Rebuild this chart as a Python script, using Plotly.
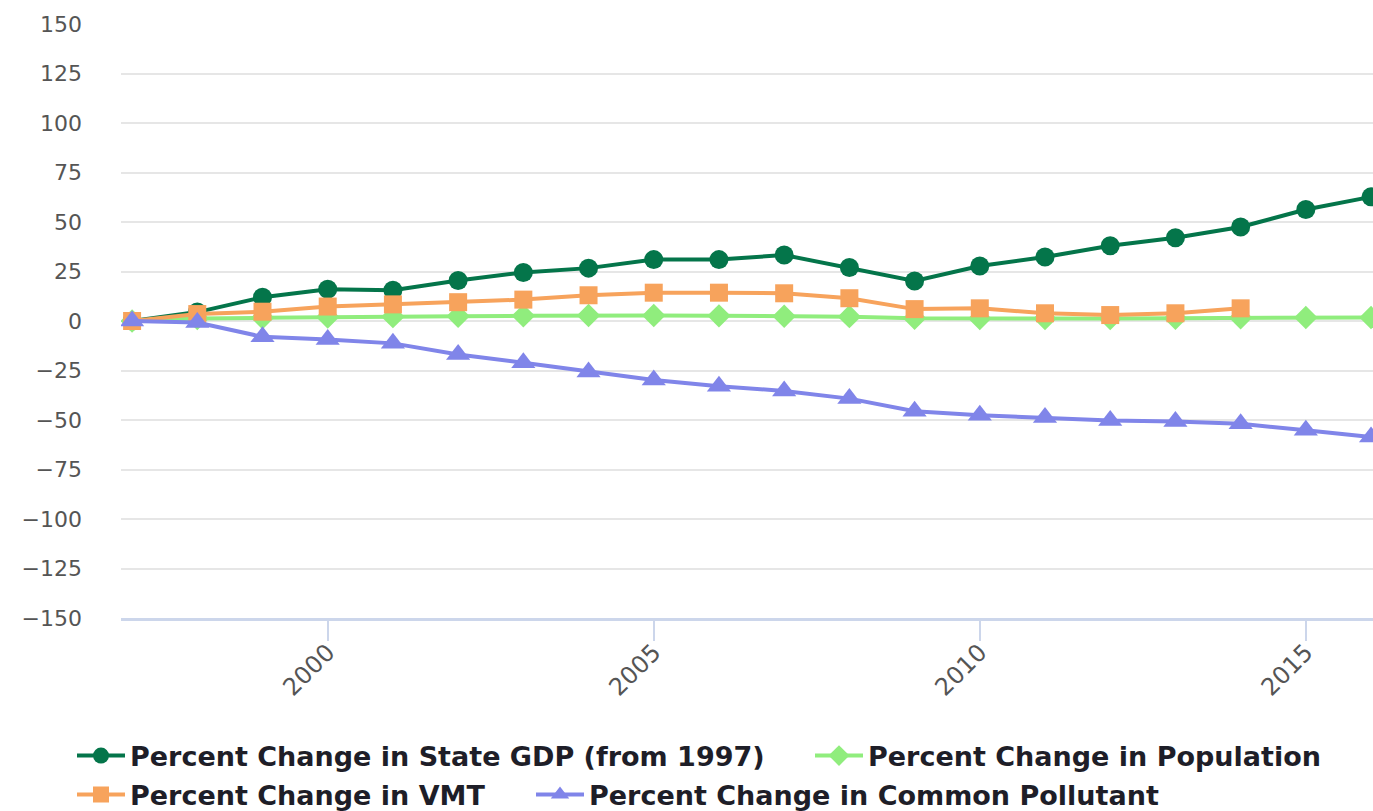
import plotly.graph_objects as go

years = list(range(1997, 2017))
gdp = [0, 4.5, 12, 16, 15.5, 20.5, 24.5, 26.7, 31, 31, 33.3, 27, 20.2, 27.8, 32.3, 38, 42, 47.5, 56.3, 62.7]
population = [0, 1.2, 1.6, 2.0, 2.2, 2.4, 2.6, 2.8, 2.8, 2.6, 2.4, 2.2, 1.4, 1.2, 1.2, 1.2, 1.4, 1.6, 1.8, 1.8]
vmt = [0, 3.5, 4.7, 7.3, 8.4, 9.5, 10.8, 13, 14.3, 14.3, 14, 11.5, 6, 6.4, 3.9, 3, 3.9, 6.4, None, None]
pollutant = [0, -0.8, -8, -9.3, -11.3, -16.9, -21.1, -25.7, -29.8, -33, -35.3, -39.2, -45.6, -47.6, -48.8,
             -50.2, -50.7, -51.9, -55.2, -58.6]

names = ["Percent Change in State GDP (from 1997)", "Percent Change in Population",
         "Percent Change in VMT", "Percent Change in Common Pollutant"]
y_ticks = list(range(-150, 151, 25))
x_ticks = [2000, 2005, 2010, 2015]

W, H = 1373, 811
fig = go.Figure()

fig.add_trace(go.Scatter(x=years, y=gdp, name=names[0], mode="lines+markers",
                         line=dict(color="#04754a", width=4),
                         marker=dict(symbol="circle", size=19, color="#04754a"),
                         legend="legend"))
fig.add_trace(go.Scatter(x=years, y=population, name=names[1], mode="lines+markers",
                         line=dict(color="#90ed7d", width=4),
                         marker=dict(symbol="diamond", size=18, color="#90ed7d"),
                         legend="legend2"))
fig.add_trace(go.Scatter(x=years, y=vmt, name=names[2], mode="lines+markers",
                         line=dict(color="#f7a35c", width=4),
                         marker=dict(symbol="square", size=18, color="#f7a35c"),
                         legend="legend3"))
fig.add_trace(go.Scatter(x=years, y=pollutant, name=names[3], mode="lines+markers",
                         line=dict(color="#8085e9", width=4),
                         marker=dict(symbol="triangle-up", size=21, color="#8085e9"),
                         legend="legend4"))

fig.add_shape(type="line", xref="paper", yref="y", x0=0, x1=1, y0=0, y1=0,
              line=dict(color="#2f74aa", width=1.5), layer="below")

leg_font = dict(family="DejaVu Sans", size=27, color="#1e1e28", weight="bold")
def leg(xpx, ypx):
    return dict(orientation="h", xref="container", yref="container",
                x=xpx / W, y=1 - ypx / H, xanchor="left", yanchor="middle",
                font=leg_font, bgcolor="rgba(0,0,0,0)", itemwidth=48)

fig.update_layout(
    width=W, height=H,
    showlegend=True,
    margin=dict(l=121, r=0, t=24, b=193, autoexpand=False),
    paper_bgcolor="white", plot_bgcolor="white",
    font=dict(family="DejaVu Sans", color="#555555"),
    legend=leg(72, 756),
    legend2=leg(810, 756),
    legend3=leg(72, 795),
    legend4=leg(531, 795),
    xaxis=dict(range=[1996.83, 2016.03], tickvals=x_ticks, tickangle=-45,
               showgrid=False, zeroline=False,
               showline=True, linecolor="#ccd6eb", linewidth=2.5,
               ticks="outside", ticklen=20, tickwidth=2, tickcolor="#ccd6eb",
               ticklabelstandoff=-12,
               tickfont=dict(family="DejaVu Sans", size=24, color="#555555")),
    yaxis=dict(range=[-150, 150], tickvals=y_ticks, showgrid=True,
               gridcolor="#e6e6e6", gridwidth=1.5, zeroline=False, showline=False,
               ticklabelstandoff=38,
               tickfont=dict(family="DejaVu Sans", size=22, color="#555555")),
)

fig.write_html("out.html", config={"displayModeBar": False},
               post_script="document.body.style.margin='0';")
